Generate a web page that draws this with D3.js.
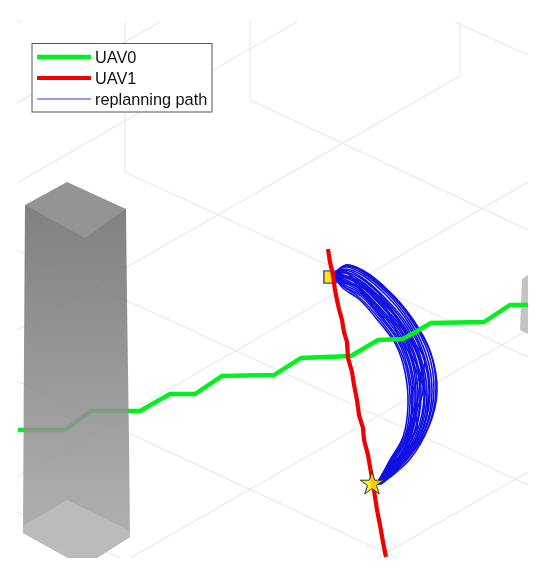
<!DOCTYPE html>
<html>
<head>
<meta charset="utf-8">
<script src="https://d3js.org/d3.v7.min.js"></script>
<style>
  html, body { margin: 0; padding: 0; background: #fff; }
  svg { display: block; }
</style>
</head>
<body>
<div id="chart"></div>
<script>
// values, in picture units
var legendLabels = ['UAV0', 'UAV1', 'replanning path'];

var uav0 = [[18,430],[65,430],[91,411],[140,411],[170,394],[195,394],[222,376],[274,375],[301,358],[351,356],[378,340],[403,339],[431,323],[484,322],[510,305],[528,305]];
var uav1 = [[328,249],[330,262],[333,275],[335,290],[337,300],[339,309],[342,320],[344,332],[347,342],[348,358],[352,372],[354,385],[357,400],[359,415],[363,428],[364,440],[368,455],[370,467],[373,483],[375,497],[377,510],[380,525],[383,542],[386,557]];

var replanPaths = [
  [[333,275],[343,288],[360,300],[380,323],[396,345],[405,372],[408,405],[403,437],[390,460],[378,481],[375,484]],
  [[333,275],[343,286],[360,298],[381,321],[397,344],[407,371],[410,404],[405,436],[391,460],[379,481],[375,484]],
  [[333,275],[342,285],[361,296],[381,318],[398,341],[408,369],[412,403],[406,437],[392,461],[379,481],[376,484]],
  [[333,275],[343,284],[360,293],[382,317],[399,340],[410,368],[413,402],[408,435],[394,460],[380,480],[376,484]],
  [[333,275],[344,282],[361,292],[382,314],[400,338],[411,367],[415,401],[409,435],[395,459],[381,480],[376,484]],
  [[333,275],[343,280],[361,290],[383,313],[401,336],[413,366],[416,400],[411,434],[397,459],[382,480],[377,484]],
  [[333,275],[344,279],[360,288],[383,311],[402,334],[414,364],[418,399],[412,433],[398,460],[382,480],[377,484]],
  [[333,275],[344,277],[361,286],[384,309],[403,333],[416,363],[420,398],[414,433],[400,459],[383,479],[377,484]],
  [[333,275],[344,276],[361,284],[384,307],[404,331],[417,362],[421,397],[415,432],[401,459],[384,479],[378,484]],
  [[333,275],[344,275],[361,283],[385,305],[405,329],[419,360],[424,396],[417,432],[402,459],[384,479],[378,484]],
  [[333,275],[345,273],[361,281],[385,303],[405,328],[420,359],[425,395],[419,431],[403,459],[385,479],[378,484]],
  [[333,275],[344,272],[362,279],[386,301],[406,326],[421,358],[427,394],[420,431],[404,458],[385,478],[379,484]],
  [[333,275],[345,270],[361,277],[386,299],[407,324],[423,356],[429,393],[422,430],[405,459],[386,479],[379,484]],
  [[333,275],[345,269],[362,275],[387,296],[408,322],[424,355],[430,392],[423,429],[406,458],[387,478],[379,484]],
  [[333,275],[345,267],[362,273],[387,293],[409,320],[426,354],[432,391],[425,429],[407,458],[387,478],[380,484]],
  [[333,275],[345,266],[362,271],[388,291],[410,318],[428,352],[434,390],[426,428],[408,458],[388,478],[380,484]],
  [[333,275],[346,265],[364,271],[390,292],[412,318],[430,351],[436,389],[428,428],[410,459],[389,478],[381,484]],
  [[333,275],[347,265],[365,273],[391,295],[413,321],[431,354],[437,392],[429,426],[409,457],[388,477],[381,484]],
  [[333,275],[344,283],[361,287],[385,304],[406,333],[421,365],[417,402],[410,436],[402,457],[385,479],[378,484]],
  [[333,275],[344,270],[361,291],[382,316],[403,329],[412,360],[427,399],[421,434],[396,460],[381,480],[377,484]],
  [[333,275],[343,277],[362,282],[387,310],[399,337],[418,367],[423,391],[408,431],[404,461],[383,478],[379,484]],
  [[333,275],[345,272],[360,285],[383,299],[408,335],[425,361],[411,397],[417,428],[392,458],[386,480],[378,484]]
];

// floor and wall grid, segment ends
var gridSegs = [
  [[125,22],[125,172]], [[125,172],[528,357]],
  [[250,20],[250,100]], [[250,100],[528,230]],
  [[460,22],[460,76]], [[455,22],[528,55]],
  [[17,330],[460,76]], [[17,183],[297,22]], [[17,103],[160,22]], [[17,23],[22,20]],
  [[17,250],[528,485]], [[17,381],[397,558]], [[17,512],[120,558]],
  [[17,477],[528,182]], [[130,558],[528,330]], [[377,558],[528,472]]
];

var towerTop = [[67,182],[25,205],[85,238],[126,209]];
var towerBody = [[25,205],[67,215],[126,209],[127,300],[129,440],[130,537],[97,558],[68,558],[23,533],[24,350]];
var towerBase = [[23,526],[67,500],[130,531],[130,537],[97,558],[68,558],[23,533]];
var farTower = [[522,279],[528,275],[528,334],[520,330]];

var squarePos = [330,277];
var starPos = [372,484];

var width = 550, height = 573;
var x = d3.scaleLinear().domain([0, 550]).range([0, width]);
var y = d3.scaleLinear().domain([0, 573]).range([0, height]);

var svg = d3.select('#chart').append('svg')
  .attr('width', width)
  .attr('height', height)
  .style('filter', 'blur(0.35px)');

svg.append('rect').attr('width', width).attr('height', height).attr('fill', '#fff');

var defs = svg.append('defs');
var grad = defs.append('linearGradient').attr('id', 'towerFade')
  .attr('x1', 0).attr('y1', 0).attr('x2', 0).attr('y2', 1);
grad.append('stop').attr('offset', '0%').attr('stop-color', '#6f6f6f');
grad.append('stop').attr('offset', '100%').attr('stop-color', '#a8a8a8');

defs.append('clipPath').attr('id', 'plotClip').append('rect')
  .attr('x', x(17)).attr('y', y(20)).attr('width', x(511)).attr('height', y(538));

var line = d3.line().x(d => x(d[0])).y(d => y(d[1]));
var curve = d3.line().x(d => x(d[0])).y(d => y(d[1])).curve(d3.curveCatmullRom);
var poly = pts => line(pts) + 'Z';

var plot = svg.append('g').attr('clip-path', 'url(#plotClip)');

plot.append('g').selectAll('path').data(gridSegs).enter().append('path')
  .attr('d', line)
  .attr('fill', 'none')
  .attr('stroke', '#e9e9e9')
  .attr('stroke-width', 1.2);

plot.append('path').attr('d', poly(farTower)).attr('fill', '#c4c4c4');

svg.append('path')
  .attr('d', d3.symbol(d3.symbolSquare, 150)())
  .attr('transform', `translate(${x(squarePos[0])},${y(squarePos[1])})`)
  .attr('fill', '#ffe600')
  .attr('stroke', '#3a3ac8')
  .attr('stroke-width', 1.4);

svg.append('g').selectAll('path').data(replanPaths).enter().append('path')
  .attr('d', curve)
  .attr('fill', 'none')
  .attr('stroke', '#1010e4')
  .attr('stroke-width', 1.6);

svg.append('path').attr('d', line(uav0))
  .attr('fill', 'none')
  .attr('stroke', '#00f020')
  .attr('stroke-width', 4.4);

// tower goes over the green path, which shows through faintly
var tower = svg.append('g').attr('clip-path', 'url(#plotClip)');
tower.append('path').attr('d', poly(towerBody)).attr('fill', 'url(#towerFade)').attr('fill-opacity', 0.88);
tower.append('path').attr('d', poly(towerBase)).attr('fill', '#bdbdbd').attr('fill-opacity', 0.85);
tower.append('path').attr('d', poly(towerTop)).attr('fill', '#949494');

svg.append('path').attr('d', line(uav1))
  .attr('fill', 'none')
  .attr('stroke', '#f00000')
  .attr('stroke-width', 4.2);

svg.append('path')
  .attr('d', d3.symbol(d3.symbolStar, 170)())
  .attr('transform', `translate(${x(starPos[0])},${y(starPos[1])})`)
  .attr('fill', '#ffe600')
  .attr('fill-opacity', 0.85)
  .attr('stroke', '#333')
  .attr('stroke-width', 1);

// legend
var legend = svg.append('g');
legend.append('rect')
  .attr('x', 32).attr('y', 43.5).attr('width', 180).attr('height', 68.5)
  .attr('fill', '#fff').attr('stroke', '#555').attr('stroke-width', 1);

var legendColor = d3.scaleOrdinal().domain(legendLabels).range(['#00f020', '#f00000', '#3030f0']);
var legendWidth = d3.scaleOrdinal().domain(legendLabels).range([4.4, 4.2, 1.2]);
var legendY = d3.scalePoint().domain(legendLabels).range([57, 99]);

var row = legend.selectAll('g').data(legendLabels).enter().append('g')
  .attr('transform', d => `translate(0,${legendY(d)})`);
row.append('line')
  .attr('x1', 37).attr('x2', 91)
  .attr('stroke', d => legendColor(d))
  .attr('stroke-width', d => legendWidth(d));
row.append('text')
  .attr('x', 95).attr('dy', '0.35em')
  .attr('font-family', '"Liberation Sans", Arial, sans-serif')
  .attr('font-size', 16.3)
  .attr('fill', '#111')
  .text(d => d);
</script>
</body>
</html>
